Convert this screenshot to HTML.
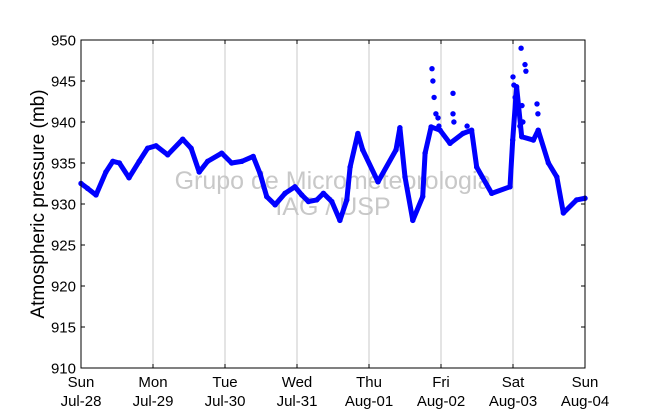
<!DOCTYPE html>
<html><head><meta charset="utf-8"><style>
body{margin:0;background:#fff}
svg{display:block;font-family:"Liberation Sans","DejaVu Sans",sans-serif}
</style></head><body>
<svg id="chart" width="650" height="409">
<g id="grid"></g>
<text x="333" y="189" text-anchor="middle" font-size="25" fill="#c8c8c8">Grupo de Micrometeorologia</text>
<text x="333" y="215" text-anchor="middle" font-size="25" fill="#c8c8c8">IAG / USP</text>
<g id="series"></g>
<rect x="81" y="40" width="504" height="328" fill="none" stroke="#000" stroke-width="1"/>
<g id="axes"></g>
<text transform="translate(44,204) rotate(-90)" text-anchor="middle" font-size="19">Atmospheric pressure (mb)</text>
</svg>
<script>
const dayNames=["Sun","Mon","Tue","Wed","Thu","Fri","Sat","Sun"];
const dayDates=["Jul-28","Jul-29","Jul-30","Jul-31","Aug-01","Aug-02","Aug-03","Aug-04"];
const yTicks=[910,915,920,925,930,935,940,945,950];
const hours=[0,2.2,5,8.3,10.6,12.8,16,19.4,22.2,25,28.9,33.9,36.7,39.4,42.2,46.9,50.2,53.6,57.4,59.7,61.9,64.7,68,71.3,73.6,75.8,78.6,80.8,83.6,86.3,88.6,89.7,92.3,93.9,99,105,106.3,108,110.6,113.9,114.7,116.7,119.7,123,127.3,130.2,131.9,136.9,143,143.9,145.2,146.9,150.8,152.4,155.8,158.6,160.8,165.2,168];
const pressure=[932.5,931.9,931.1,933.9,935.2,935.0,933.2,935.2,936.8,937.1,936.0,937.9,936.8,933.9,935.2,936.2,935.0,935.2,935.8,933.7,930.9,929.9,931.3,932.1,931.1,930.3,930.5,931.3,930.3,928.0,930.5,934.5,938.6,936.6,932.7,936.6,939.3,933.3,928.0,930.9,936.2,939.4,939.0,937.4,938.6,939.0,934.5,931.3,932.1,937.8,944.3,938.2,937.8,939.0,935.0,933.3,928.9,930.5,930.7];
const spikeHours=[117,117.3,117.7,118.3,119,119.3,124,124,124.3,128.7,144,144.3,144.7,145.3,146.3,146.7,147,147.3,148,148.3,152,152.3];
const spikePressure=[946.5,945,943,941,940.5,939.5,943.5,941,940,939.5,945.5,944.5,943,941.5,939.5,949,942,940,947,946.2,942.2,941];
const X0=81,W=504,Y0=40,H=328,HMAX=168,PMIN=910,PMAX=950;
const xs=h=>X0+h/HMAX*W, ys=p=>Y0+(PMAX-p)/(PMAX-PMIN)*H;
const NS="http://www.w3.org/2000/svg";
const mk=(t,a,par)=>{const e=document.createElementNS(NS,t);for(const k in a)e.setAttribute(k,a[k]);par.appendChild(e);return e;};
const grid=document.getElementById('grid'),axes=document.getElementById('axes'),ser=document.getElementById('series');
dayNames.forEach((d,i)=>{const x=xs(i*24);
 if(i>0&&i<7){const l=mk('line',{x1:x,x2:x,y1:Y0,y2:Y0+H,stroke:'#c8c8c8','stroke-width':1},grid);
 
 }
 const t1=mk('line',{x1:x,x2:x,y1:Y0+H,y2:Y0+H-4,stroke:'#000'},axes);
 
 
 const t2=mk('line',{x1:x,x2:x,y1:Y0,y2:Y0+4,stroke:'#000'},axes);
 
 
 const a=mk('text',{x:x,y:387,'text-anchor':'middle','font-size':15},axes);a.textContent=d;
 
 
 const b=mk('text',{x:x,y:406,'text-anchor':'middle','font-size':15},axes);b.textContent=dayDates[i];
 
 
});
yTicks.forEach(v=>{const y=ys(v);
 const t1=mk('line',{x1:X0,x2:X0+4,y1:y,y2:y,stroke:'#000'},axes);
 
 
 const t2=mk('line',{x1:X0+W,x2:X0+W-4,y1:y,y2:y,stroke:'#000'},axes);
 
 
 const t=mk('text',{x:76,y:y+5.5,'text-anchor':'end','font-size':15},axes);t.textContent=v;
 
 
});
const pl=mk('polyline',{points:hours.map((h,i)=>xs(h)+','+ys(pressure[i])).join(' '),fill:'none',stroke:'#0000ff','stroke-width':5,'stroke-linejoin':'round','stroke-linecap':'round'},ser);


hours.forEach((h,i)=>{const c=mk('circle',{cx:xs(h),cy:ys(pressure[i]),r:2.7,fill:'#0000ff'},ser);
 
 });
spikeHours.forEach((h,i)=>{const c=mk('circle',{cx:xs(h),cy:ys(spikePressure[i]),r:2.7,fill:'#0000ff'},ser);
 
 });
</script>
</body></html>
